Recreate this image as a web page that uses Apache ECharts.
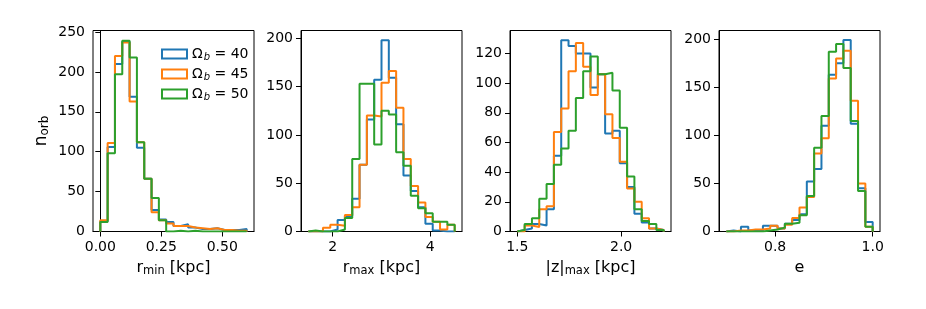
<!DOCTYPE html>
<html><head><meta charset="utf-8">
<script src="https://cdn.jsdelivr.net/npm/echarts@6/dist/echarts.min.js"></script>
<style>html,body{margin:0;padding:0;background:#fff}#c{width:926px;height:309px}</style>
</head><body><div id="c"></div>
<script>
// ---- data ----
const seriesLabels = ['40', '45', '50'];
const colors = ['#1f77b4', '#ff7f0e', '#2ca02c'];

// r_min [kpc], 20 bins over range
const rminRange = [0, 0.6];
const rminB40 = [13,106,210,238,169,105,66,27,15,12,7,9,5,3,3,4,2,2,2,3];
const rminB45 = [14,111,220,237,163,112,66,24,14,10,7,7,5,4,3,4,2,2,1,1];
const rminB50 = [12,98,197,239,218,112,66,42,14,0,1,0,1,0,0,0,0,0,0,0];

// r_max [kpc]
const rmaxRange = [1.5, 4.5];
const rmaxB40 = [0,0,0,2,12,16,34,69,116,157,198,159,111,58,42,25,8,1,0,0];
const rmaxB45 = [0,0,4,7,6,17,25,69,120,119,154,166,128,75,47,30,15,10,2,7];
const rmaxB50 = [1,0,0,0,2,14,75,153,153,90,125,121,82,68,37,24,19,10,10,7];

// |z|_max [kpc]
const zmaxRange = [1.5, 2.205];
const zmaxB40 = [1,2,5,4,15,51,129,125,120,120,97,106,66,68,46,30,12,6,2,1];
const zmaxB45 = [0,4,3,15,17,67,83,108,127,111,92,106,79,63,47,29,20,9,2,1];
const zmaxB50 = [1,5,9,22,32,45,56,68,90,108,118,106,107,95,70,37,15,7,5,1];

// e
const eRange = [0.70, 1.0];
const eB40 = [1,0,5,1,1,6,6,3,8,12,18,52,65,110,163,175,199,112,45,10];
const eB45 = [0,1,1,2,2,3,6,3,7,14,25,36,81,97,159,180,188,136,50,5];
const eB50 = [0,0,0,0,0,1,2,4,8,9,17,37,87,120,187,195,170,115,42,5];

// tick labels
const xTicks = [[0, 0.25, 0.5], [2, 4], [1.5, 2.0], [0.8, 1.0]];
const xDecimals = [2, 0, 1, 1];
const yTicks = [[0,50,100,150,200,250], [0,50,100,150,200], [0,20,40,60,80,100,120], [0,50,100,150,200]];
const xNames = ['r{s|min} [kpc]', 'r{s|max} [kpc]', '|z|{s|max} [kpc]', 'e'];

// ---- build ----
const panels = [
  {range: rminRange, data: [rminB40, rminB45, rminB50], xmin: -0.03, xmax: 0.63, ymax: 252},
  {range: rmaxRange, data: [rmaxB40, rmaxB45, rmaxB50], xmin: 1.35, xmax: 4.65, ymax: 208},
  {range: zmaxRange, data: [zmaxB40, zmaxB45, zmaxB50], xmin: 1.4648, xmax: 2.2403, ymax: 135.5},
  {range: eRange, data: [eB40, eB45, eB50], xmin: 0.685, xmax: 1.015, ymax: 209}
];
const gridLefts = [93, 301, 510, 719];

function stepPoints(range, counts) {
  const n = counts.length, w = (range[1] - range[0]) / n;
  const pts = [[range[0], 0]];
  for (let i = 0; i < n; i++) {
    const a = range[0] + i * w, b = range[0] + (i + 1) * w;
    pts.push([a, counts[i]]);
    pts.push([b, counts[i]]);
  }
  pts.push([range[1], 0]);
  return pts;
}

const FONT = 'DejaVu Sans';
const grid = [], xAxis = [], yAxis = [], series = [];
panels.forEach((p, i) => {
  grid.push({left: gridLefts[i], top: 30.5, width: 161, height: 201, show: true,
    borderColor: '#000', borderWidth: 1, backgroundColor: 'transparent', containLabel: false});
  xAxis.push({type: 'value', gridIndex: i, min: p.xmin, max: p.xmax,
    splitLine: {show: false},
    axisLine: {show: true, onZero: false, lineStyle: {color: '#000', width: 1}},
    axisTick: {show: true, length: 5, lineStyle: {color: '#000', width: 1}, customValues: xTicks[i]},
    axisLabel: {customValues: xTicks[i], margin: 9, color: '#000', fontSize: 14, fontFamily: FONT,
      formatter: v => Number(v).toFixed(xDecimals[i])},
    name: xNames[i], nameLocation: 'middle', nameGap: 27,
    nameTextStyle: {color: '#000', fontSize: 16, fontFamily: FONT, verticalAlign: 'top',
      rich: {s: {fontSize: 11.5, fontFamily: FONT, color: '#000', padding: [7, 0, 0, 0]}}}
  });
  yAxis.push({type: 'value', gridIndex: i, min: 0, max: p.ymax,
    splitLine: {show: false},
    axisLine: {show: true, lineStyle: {color: '#000', width: 1}},
    axisTick: {show: true, length: 5, lineStyle: {color: '#000', width: 1}, customValues: yTicks[i]},
    axisLabel: {customValues: yTicks[i], margin: 8, color: '#000', fontSize: 14, fontFamily: FONT},
    name: i === 0 ? 'n{s|orb}' : '', nameLocation: 'middle', nameGap: 42, nameRotate: 90,
    nameTextStyle: {color: '#000', fontSize: 17, fontFamily: FONT,
      rich: {s: {fontSize: 12, fontFamily: FONT, color: '#000', padding: [7, 0, 0, 0]}}}
  });
  p.data.forEach((counts, k) => {
    series.push({type: 'line', name: seriesLabels[k], xAxisIndex: i, yAxisIndex: i,
      data: stepPoints(p.range, counts), showSymbol: false, symbol: 'none',
      lineStyle: {color: colors[k], width: 2}, itemStyle: {color: colors[k]},
      z: 2 + k, animation: false, silent: true, clip: true});
  });
});

const chart = echarts.init(document.getElementById('c'), null, {renderer: 'canvas'});
chart.setOption({
  animation: false,
  grid, xAxis, yAxis, series,
  legend: {
    show: true, orient: 'vertical', left: 156, top: 42,
    itemWidth: 25, itemHeight: 9, itemGap: 5,
    icon: 'rect', selectedMode: false,
    data: seriesLabels.map((n, k) => ({name: n, icon: 'rect',
      itemStyle: {color: 'rgba(0,0,0,0)', borderColor: colors[k], borderWidth: 2}})),
    formatter: n => '{a|Ω}{s|b}{a| = ' + n + '}',
    textStyle: {color: '#000', fontSize: 14, fontFamily: FONT,
      rich: {a: {fontSize: 14, fontFamily: FONT, color: '#000'},
             s: {fontSize: 10, fontStyle: 'italic', fontFamily: FONT, color: '#000', padding: [6, 0, 0, 1]}}}
  }
});
</script></body></html>
